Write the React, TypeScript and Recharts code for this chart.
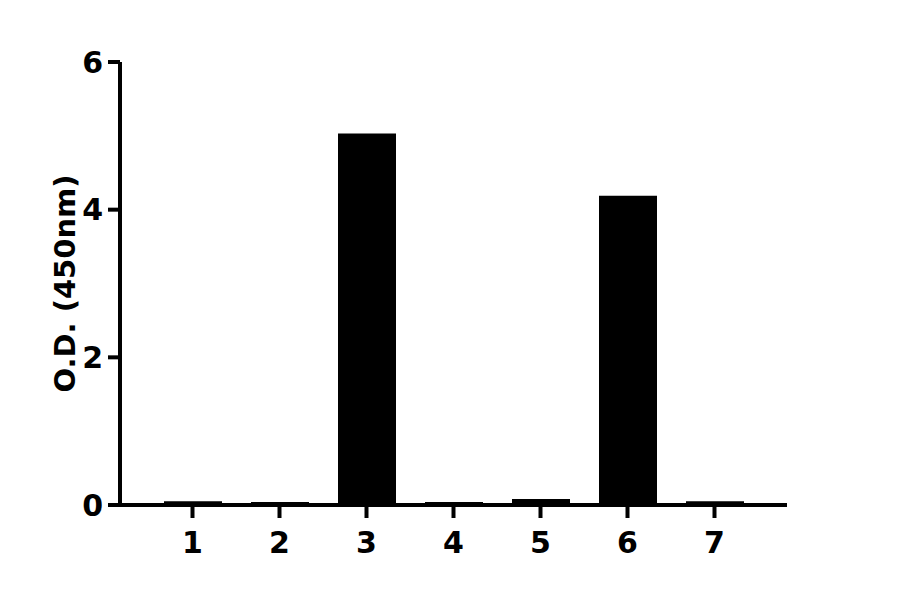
import { BarChart, Bar, XAxis, YAxis } from 'recharts';

const categories = ['1', '2', '3', '4', '5', '6', '7'];
const odValues = [0.05, 0.04, 5.03, 0.04, 0.08, 4.19, 0.05];
const yTicks = [0, 2, 4, 6];

const data = categories.map((name, i) => ({ name, od: odValues[i] }));

const FONT = '"DejaVu Sans", sans-serif';
const tickStyle = { fill: '#000', fontSize: 30, fontWeight: 700, fontFamily: FONT };

export default function App() {
  return (
    <div style={{ position: 'absolute', left: 0, top: 0, background: '#fff' }}>
      <BarChart
        width={900}
        height={594}
        data={data}
        margin={{ top: 62, right: 113, bottom: 0, left: 0 }}
        barSize={58}
      >
        <XAxis
          dataKey='name'
          height={89}
          padding={{ left: 29, right: 29 }}
          axisLine={{ stroke: '#000', strokeWidth: 4 }}
          tickLine={{ stroke: '#000', strokeWidth: 4 }}
          tickSize={13}
          tickMargin={14}
          tick={tickStyle}
        />
        <YAxis
          width={120}
          domain={[0, 6]}
          ticks={yTicks}
          interval={0}
          axisLine={{ stroke: '#000', strokeWidth: 4 }}
          tickLine={{ stroke: '#000', strokeWidth: 4 }}
          tickSize={12}
          tickMargin={5}
          tick={tickStyle}
          label={{
            value: 'O.D. (450nm)',
            angle: -90,
            position: 'insideLeft',
            offset: 65,
            style: {
              textAnchor: 'middle',
              fill: '#000',
              fontSize: 29,
              fontWeight: 700,
              fontFamily: FONT,
            },
          }}
        />
        <Bar dataKey='od' fill='#000' isAnimationActive={false} />
      </BarChart>
    </div>
  );
}
